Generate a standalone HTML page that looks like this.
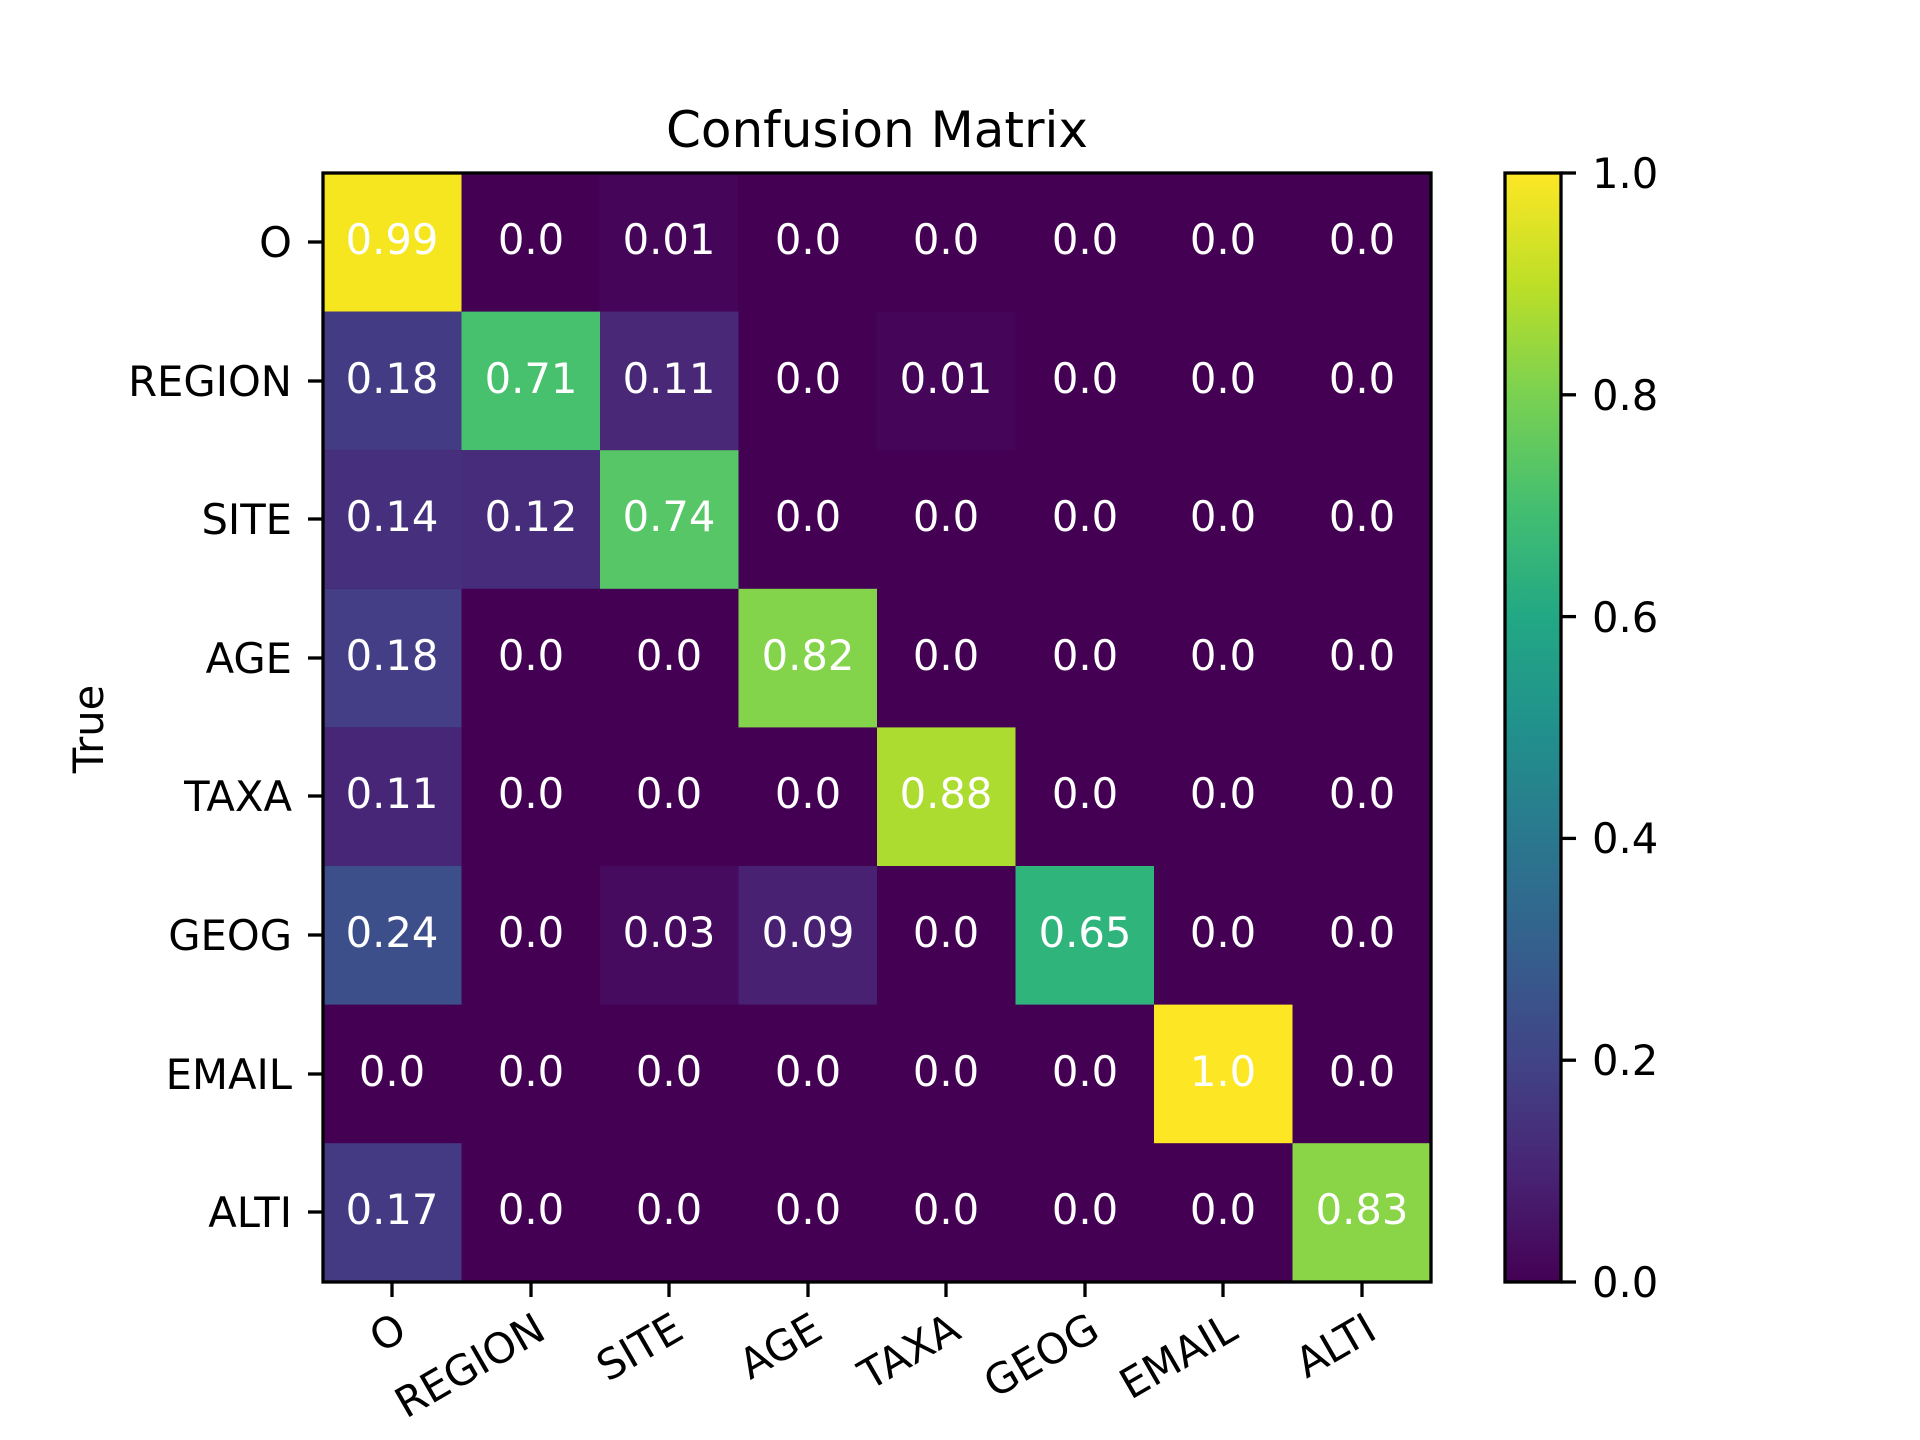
<!DOCTYPE html>
<html><head><meta charset="utf-8"><style>html,body{margin:0;padding:0;background:#fff}svg{display:block}</style></head>
<body>
<svg xmlns="http://www.w3.org/2000/svg" width="1920" height="1440" viewBox="0 0 1920 1440" font-family="DejaVu Sans, Liberation Sans, sans-serif">
<defs>
<linearGradient id="vir" x1="0" y1="1" x2="0" y2="0">
<stop offset="0" stop-color="#440154"/><stop offset="0.1" stop-color="#482475"/><stop offset="0.2" stop-color="#414487"/><stop offset="0.3" stop-color="#355f8d"/><stop offset="0.4" stop-color="#2a788e"/><stop offset="0.5" stop-color="#21918c"/><stop offset="0.6" stop-color="#22a884"/><stop offset="0.7" stop-color="#44bf70"/><stop offset="0.8" stop-color="#7ad151"/><stop offset="0.9" stop-color="#bddf26"/><stop offset="1" stop-color="#fde725"/>
</linearGradient>
</defs>
<rect width="1920" height="1440" fill="#fff"/>
<text x="877" y="147" font-size="50" text-anchor="middle">Confusion Matrix</text>
<g>
<rect x="323" y="173" width="1108" height="1109" fill="#440154"/>
<rect x="323" y="173" width="138.5" height="138.6" fill="#f6e620"/>
<rect x="599.5" y="173" width="138.5" height="138.6" fill="#450559"/>
<rect x="323" y="311.6" width="138.5" height="138.6" fill="#433c84"/>
<rect x="461.5" y="311.6" width="138.5" height="138.6" fill="#48c16e"/>
<rect x="600" y="311.6" width="138.5" height="138.6" fill="#482877"/>
<rect x="877" y="311.6" width="138.5" height="138.6" fill="#450559"/>
<rect x="323" y="450.2" width="138.5" height="138.6" fill="#46307e"/>
<rect x="461.5" y="450.2" width="138.5" height="138.6" fill="#472c7b"/>
<rect x="600" y="450.2" width="138.5" height="138.6" fill="#56c667"/>
<rect x="323" y="588.8" width="138.5" height="138.6" fill="#433e85"/>
<rect x="738.5" y="588.8" width="138.5" height="138.6" fill="#84d44b"/>
<rect x="323" y="727.4" width="138.5" height="138.6" fill="#482677"/>
<rect x="877" y="727.4" width="138.5" height="138.6" fill="#addc30"/>
<rect x="323" y="866" width="138.5" height="138.6" fill="#3c4f8a"/>
<rect x="600" y="866" width="138.5" height="138.6" fill="#460b5e"/>
<rect x="738.5" y="866" width="138.5" height="138.6" fill="#482173"/>
<rect x="1015.5" y="866" width="138.5" height="138.6" fill="#2fb47c"/>
<rect x="1154" y="1004.6" width="138.5" height="138.6" fill="#fde725"/>
<rect x="323" y="1143.2" width="138.5" height="138.8" fill="#443a83"/>
<rect x="1292.5" y="1143.2" width="138.5" height="138.8" fill="#8ad547"/>
</g>
<g fill="#fff" font-size="41.7" text-anchor="middle">
<text x="392" y="254">0.99</text><text x="531" y="254">0.0</text><text x="669" y="254">0.01</text><text x="808" y="254">0.0</text><text x="946" y="254">0.0</text><text x="1085" y="254">0.0</text><text x="1223" y="254">0.0</text><text x="1362" y="254">0.0</text>
<text x="392" y="393">0.18</text><text x="531" y="393">0.71</text><text x="669" y="393">0.11</text><text x="808" y="393">0.0</text><text x="946" y="393">0.01</text><text x="1085" y="393">0.0</text><text x="1223" y="393">0.0</text><text x="1362" y="393">0.0</text>
<text x="392" y="531">0.14</text><text x="531" y="531">0.12</text><text x="669" y="531">0.74</text><text x="808" y="531">0.0</text><text x="946" y="531">0.0</text><text x="1085" y="531">0.0</text><text x="1223" y="531">0.0</text><text x="1362" y="531">0.0</text>
<text x="392" y="670">0.18</text><text x="531" y="670">0.0</text><text x="669" y="670">0.0</text><text x="808" y="670">0.82</text><text x="946" y="670">0.0</text><text x="1085" y="670">0.0</text><text x="1223" y="670">0.0</text><text x="1362" y="670">0.0</text>
<text x="392" y="808">0.11</text><text x="531" y="808">0.0</text><text x="669" y="808">0.0</text><text x="808" y="808">0.0</text><text x="946" y="808">0.88</text><text x="1085" y="808">0.0</text><text x="1223" y="808">0.0</text><text x="1362" y="808">0.0</text>
<text x="392" y="947">0.24</text><text x="531" y="947">0.0</text><text x="669" y="947">0.03</text><text x="808" y="947">0.09</text><text x="946" y="947">0.0</text><text x="1085" y="947">0.65</text><text x="1223" y="947">0.0</text><text x="1362" y="947">0.0</text>
<text x="392" y="1086">0.0</text><text x="531" y="1086">0.0</text><text x="669" y="1086">0.0</text><text x="808" y="1086">0.0</text><text x="946" y="1086">0.0</text><text x="1085" y="1086">0.0</text><text x="1223" y="1086">1.0</text><text x="1362" y="1086">0.0</text>
<text x="392" y="1224">0.17</text><text x="531" y="1224">0.0</text><text x="669" y="1224">0.0</text><text x="808" y="1224">0.0</text><text x="946" y="1224">0.0</text><text x="1085" y="1224">0.0</text><text x="1223" y="1224">0.0</text><text x="1362" y="1224">0.83</text>
</g>
<rect x="323" y="173" width="1108" height="1109" fill="none" stroke="#000" stroke-width="3.3"/>
<g stroke="#000" stroke-width="3.3">
<line x1="308" x2="323" y1="242" y2="242"/><line x1="308" x2="323" y1="381" y2="381"/><line x1="308" x2="323" y1="519" y2="519"/><line x1="308" x2="323" y1="658" y2="658"/><line x1="308" x2="323" y1="796" y2="796"/><line x1="308" x2="323" y1="935" y2="935"/><line x1="308" x2="323" y1="1074" y2="1074"/><line x1="308" x2="323" y1="1212" y2="1212"/>
<line y1="1282" y2="1297" x1="392" x2="392"/><line y1="1282" y2="1297" x1="531" x2="531"/><line y1="1282" y2="1297" x1="669" x2="669"/><line y1="1282" y2="1297" x1="808" x2="808"/><line y1="1282" y2="1297" x1="946" x2="946"/><line y1="1282" y2="1297" x1="1085" x2="1085"/><line y1="1282" y2="1297" x1="1223" x2="1223"/><line y1="1282" y2="1297" x1="1362" x2="1362"/>
</g>
<g font-size="41.7" text-anchor="end">
<text x="292" y="257">O</text><text x="292" y="396">REGION</text><text x="292" y="534">SITE</text><text x="292" y="673">AGE</text><text x="292" y="811">TAXA</text><text x="292" y="950">GEOG</text><text x="292" y="1089">EMAIL</text><text x="292" y="1227">ALTI</text>
</g>
<g font-size="41.7" text-anchor="end">
<text transform="translate(409,1337) rotate(-30)">O</text>
<text transform="translate(548,1337) rotate(-30)">REGION</text>
<text transform="translate(686,1337) rotate(-30)">SITE</text>
<text transform="translate(825,1337) rotate(-30)">AGE</text>
<text transform="translate(963,1337) rotate(-30)">TAXA</text>
<text transform="translate(1102,1337) rotate(-30)">GEOG</text>
<text transform="translate(1240,1337) rotate(-30)">EMAIL</text>
<text transform="translate(1379,1337) rotate(-30)">ALTI</text>
</g>
<text transform="translate(103,729) rotate(-90)" font-size="41.7" text-anchor="middle">True</text>
<rect x="1505" y="173" width="56" height="1109" fill="url(#vir)" stroke="#000" stroke-width="3.3"/>
<g stroke="#000" stroke-width="3.3">
<line x1="1561" x2="1576" y1="1282" y2="1282"/><line x1="1561" x2="1576" y1="1060.2" y2="1060.2"/><line x1="1561" x2="1576" y1="838.4" y2="838.4"/><line x1="1561" x2="1576" y1="616.6" y2="616.6"/><line x1="1561" x2="1576" y1="394.8" y2="394.8"/><line x1="1561" x2="1576" y1="173" y2="173"/>
</g>
<g font-size="41.7">
<text x="1592" y="1297">0.0</text><text x="1592" y="1075">0.2</text><text x="1592" y="853">0.4</text><text x="1592" y="632">0.6</text><text x="1592" y="410">0.8</text><text x="1592" y="188">1.0</text>
</g>
</svg>
</body></html>
